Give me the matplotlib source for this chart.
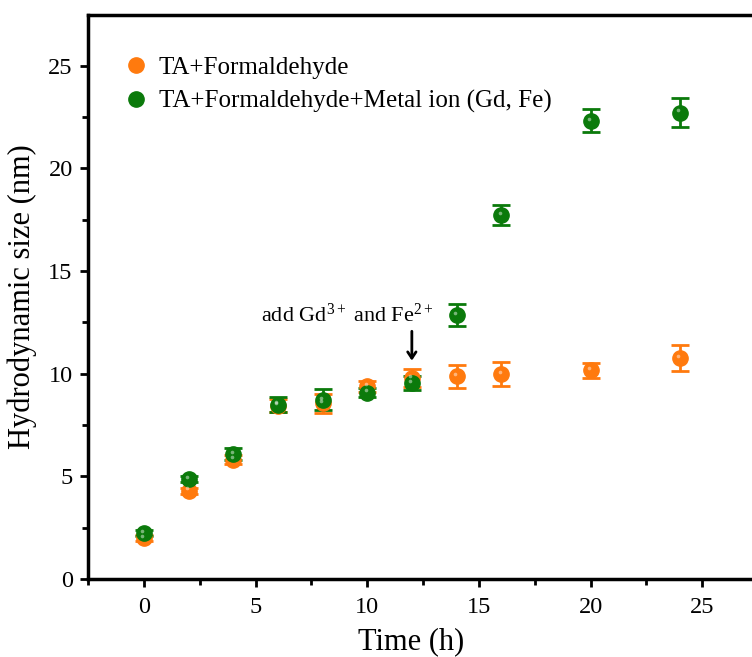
import matplotlib
matplotlib.use("Agg")
import matplotlib.pyplot as plt
from matplotlib.lines import Line2D
from matplotlib.ticker import MultipleLocator
import matplotlib.transforms as mtransforms

plt.rcParams['font.family'] = ['Liberation Serif', 'DejaVu Serif']
plt.rcParams['mathtext.fontset'] = 'custom'
plt.rcParams['mathtext.rm'] = 'Liberation Serif'
plt.rcParams['mathtext.it'] = 'Liberation Serif:italic'

# Data
time_orange = [0, 2, 4, 6, 8, 10, 12, 14, 16, 20, 24]
size_orange = [2.0, 4.3, 5.82, 8.45, 8.55, 9.38, 9.79, 9.87, 9.98, 10.16, 10.76]
err_orange = [0.15, 0.15, 0.2, 0.3, 0.45, 0.25, 0.42, 0.56, 0.6, 0.35, 0.65]

time_green = [0, 2, 4, 6, 8, 10, 12, 14, 16, 20, 24]
size_green = [2.24, 4.87, 6.08, 8.49, 8.73, 9.08, 9.55, 12.85, 17.72, 22.32, 22.72]
err_green = [0.15, 0.15, 0.3, 0.38, 0.52, 0.2, 0.35, 0.55, 0.5, 0.57, 0.72]

label_orange = "TA+Formaldehyde"
label_green = "TA+Formaldehyde+Metal ion (Gd, Fe)"

c_orange = '#FF7A0E'
c_green = '#0B7A0B'

fig = plt.figure(figsize=(7.52, 6.57), dpi=100)
ax = fig.add_axes([88/752, 78/657, 664/752, 564/657])

for t, s, e, c in [(time_orange, size_orange, err_orange, c_orange),
                   (time_green, size_green, err_green, c_green)]:
    ax.errorbar(t, s, yerr=e, fmt='o', color=c, ms=11, mec=c,
                elinewidth=2, capsize=6.5, capthick=2, zorder=3)
    off = mtransforms.offset_copy(ax.transData, fig=fig, x=-1.0, y=1.6, units='points')
    ax.plot(t, s, 'o', ms=2.6, color='white', alpha=0.45, mec='none',
            transform=off, zorder=4)

ax.set_xlim(-2.5, 27.23)
ax.set_ylim(0, 27.47)
ax.xaxis.set_major_locator(MultipleLocator(5))
ax.xaxis.set_minor_locator(MultipleLocator(2.5))
ax.yaxis.set_major_locator(MultipleLocator(5))
ax.yaxis.set_minor_locator(MultipleLocator(2.5))

for side in ['left', 'bottom', 'top']:
    ax.spines[side].set_linewidth(2.5)
ax.spines['right'].set_visible(False)

ax.tick_params(which='major', direction='out', length=6, width=2, labelsize=17.5, pad=5)
ax.tick_params(which='minor', direction='out', length=4, width=2)
ax.tick_params(axis='x', which='major', pad=7)
ax.tick_params(top=False, right=False, which='both')

ax.set_xlabel("Time (h)", fontsize=22)
ax.set_ylabel("Hydrodynamic size (nm)", fontsize=22, labelpad=8)
ax.xaxis.set_label_coords(0.486, -0.085)

handles = [Line2D([], [], ls='none', marker='o', ms=11, color=c_orange),
           Line2D([], [], ls='none', marker='o', ms=11, color=c_green)]
ax.legend(handles, [label_orange, label_green], loc='upper left',
          bbox_to_anchor=(0.035, 0.945), frameon=False, fontsize=18,
          handletextpad=0.3, labelspacing=0.45, handlelength=1.2, borderaxespad=0)

ax.annotate("", xy=(12, 10.5), xytext=(12, 12.2),
            arrowprops=dict(arrowstyle='->,head_length=0.45,head_width=0.3',
                            color='black', lw=2))
ax.text(9.1, 12.85, r"add Gd$^{3+}$ and Fe$^{2+}$", fontsize=16,
        ha='center', va='center')

fig.savefig("out.png", dpi=100)
